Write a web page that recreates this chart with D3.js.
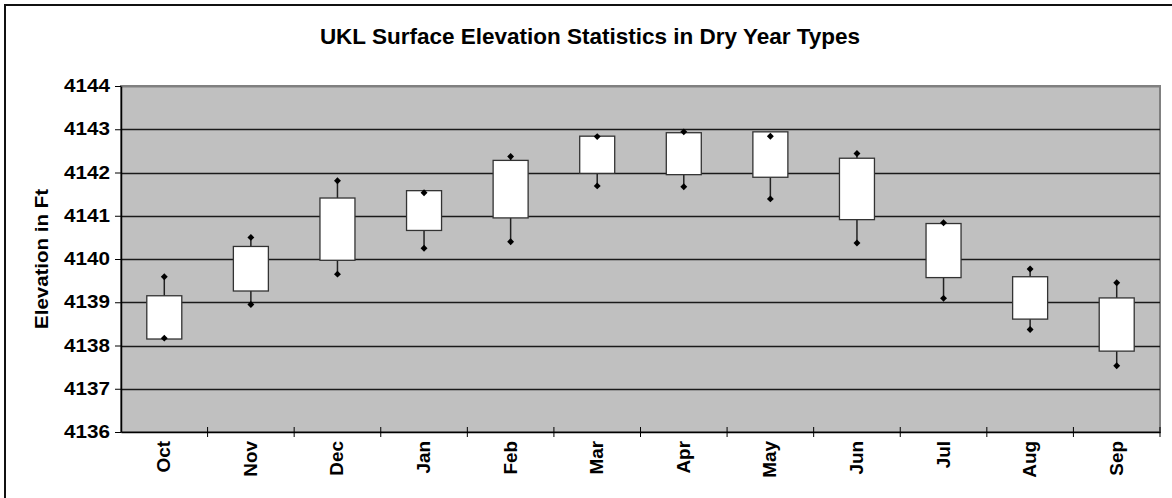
<!DOCTYPE html>
<html>
<head>
<meta charset="utf-8">
<script src="https://cdn.jsdelivr.net/npm/d3@7"></script>
<style>
  body { margin: 0; background: #fff; }
  svg { display: block; font-family: Arial, 'Liberation Sans', sans-serif; font-weight: bold; }
</style>
</head>
<body>
<svg class="chart" width="1172" height="498"></svg>
<script>
const months = ['Oct', 'Nov', 'Dec', 'Jan', 'Feb', 'Mar', 'Apr', 'May', 'Jun', 'Jul', 'Aug', 'Sep'];
const boxTop = [4139.15, 4140.29, 4141.41, 4141.58, 4142.28, 4142.84, 4142.92, 4142.94, 4142.33, 4140.82, 4139.59, 4139.10];
const boxBottom = [4138.15, 4139.26, 4139.97, 4140.66, 4140.95, 4141.98, 4141.95, 4141.89, 4140.91, 4139.57, 4138.61, 4137.87];
const highs = [4139.59, 4140.50, 4141.81, 4141.53, 4142.37, 4142.83, 4142.94, 4142.84, 4142.44, 4140.84, 4139.77, 4139.45];
const lows = [4138.17, 4138.95, 4139.65, 4140.25, 4140.40, 4141.69, 4141.67, 4141.39, 4140.37, 4139.09, 4138.37, 4137.53];
const yTicks = [4136, 4137, 4138, 4139, 4140, 4141, 4142, 4143, 4144];

// stretch text along its direction, the source fonts are wide
const widen = (sel, k) => sel.each(function () {
  const len = this.getComputedTextLength();
  d3.select(this).attr('textLength', len * k).attr('lengthAdjust', 'spacingAndGlyphs');
});

const startApp = () => {
  const plot = { left: 121, top: 86, right: 1160, bottom: 432 };
  const svg = d3.select('.chart');
  const data = months.map((m, i) => ({
    m, top: boxTop[i], bottom: boxBottom[i], high: highs[i], low: lows[i],
  }));

  const xScale = d3.scaleBand().domain(months).range([plot.left, plot.right]);
  const yScale = d3.scaleLinear().domain([4136, 4144]).range([plot.bottom, plot.top]);

  // outer frame (only top and left visible in the crop)
  svg.append('path')
    .attr('d', 'M5,498 V5 H1172')
    .attr('fill', 'none')
    .attr('stroke', '#111')
    .attr('stroke-width', 2);

  svg.append('text')
    .attr('x', 590)
    .attr('y', 44)
    .attr('text-anchor', 'middle')
    .attr('font-size', 22.5)
    .text('UKL Surface Elevation Statistics in Dry Year Types');

  svg.append('rect')
    .attr('x', plot.left)
    .attr('y', plot.top)
    .attr('width', plot.right - plot.left)
    .attr('height', plot.bottom - plot.top)
    .attr('fill', '#c0c0c0')
    .attr('stroke', '#808080')
    .attr('stroke-width', 2);

  svg.append('g')
    .selectAll('line')
    .data(yTicks.slice(1))
    .enter()
    .append('line')
    .attr('x1', plot.left)
    .attr('x2', plot.right)
    .attr('y1', (d) => Math.round(yScale(d)) + 0.5)
    .attr('y2', (d) => Math.round(yScale(d)) + 0.5)
    .attr('stroke', (d) => (d === 4144 ? '#808080' : '#1a1a1a'))
    .attr('stroke-width', (d) => (d === 4144 ? 2 : 1.3));

  const yAxis = d3.axisLeft(yScale).tickValues(yTicks).tickSize(6).tickSizeOuter(0).tickPadding(5)
    .tickFormat(d3.format('d'));
  const yG = svg.append('g')
    .attr('transform', `translate(${plot.left},0)`)
    .call(yAxis);
  yG.select('.domain').attr('stroke', '#000').attr('stroke-width', 1.5);
  yG.selectAll('.tick line').attr('stroke', '#000');
  yG.selectAll('.tick text')
    .attr('font-size', 17.5)
    .attr('font-family', 'Arial, Liberation Sans, sans-serif')
    .attr('font-weight', 'bold')
    .attr('fill', '#000')
    .call(widen, 1.18);

  const xAxis = d3.axisBottom(xScale).tickSize(0).tickSizeOuter(0).tickFormat('');
  const xG = svg.append('g')
    .attr('transform', `translate(0,${plot.bottom})`)
    .call(xAxis);
  xG.select('.domain').attr('stroke', '#000').attr('stroke-width', 1.5);

  // separators between months cross the axis
  svg.append('g')
    .selectAll('line')
    .data(months.slice(1).concat(['end']))
    .enter()
    .append('line')
    .attr('x1', (d) => (d === 'end' ? plot.right : xScale(d)))
    .attr('x2', (d) => (d === 'end' ? plot.right : xScale(d)))
    .attr('y1', plot.bottom - 5)
    .attr('y2', plot.bottom + 5)
    .attr('stroke', '#000')
    .attr('stroke-width', 1);

  svg.append('g')
    .selectAll('text')
    .data(months)
    .enter()
    .append('text')
    .attr('transform', (d) => `translate(${xScale(d) + xScale.bandwidth() / 2 + 6},441) rotate(-90)`)
    .attr('text-anchor', 'end')
    .attr('font-size', 17.5)
    .text((d) => d)
    .call(widen, 1.08);

  svg.append('text')
    .attr('transform', `translate(48,${(plot.top + plot.bottom) / 2}) rotate(-90)`)
    .attr('text-anchor', 'middle')
    .attr('font-size', 17.5)
    .text('Elevation in Ft')
    .call(widen, 1.17);

  const cx = (d) => xScale(d.m) + xScale.bandwidth() / 2;
  const boxW = 35;

  svg.append('g')
    .selectAll('line')
    .data(data)
    .enter()
    .append('line')
    .attr('x1', cx)
    .attr('x2', cx)
    .attr('y1', (d) => yScale(d.high))
    .attr('y2', (d) => yScale(d.low))
    .attr('stroke', '#222')
    .attr('stroke-width', 1.5);

  svg.append('g')
    .selectAll('rect')
    .data(data)
    .enter()
    .append('rect')
    .attr('x', (d) => cx(d) - boxW / 2)
    .attr('y', (d) => yScale(d.top))
    .attr('width', boxW)
    .attr('height', (d) => yScale(d.bottom) - yScale(d.top))
    .attr('fill', '#fff')
    .attr('stroke', '#333')
    .attr('stroke-width', 1.3);

  const diamond = d3.symbol().type(d3.symbolSquare).size(24);
  const dots = data.flatMap((d) => [{ m: d.m, v: d.high }, { m: d.m, v: d.low }]);
  svg.append('g')
    .selectAll('path')
    .data(dots)
    .enter()
    .append('path')
    .attr('d', diamond)
    .attr('transform', (d) => `translate(${cx(d)},${yScale(d.v)}) rotate(45)`)
    .attr('fill', '#000');
};

window.onload = startApp;
</script>
</body>
</html>
